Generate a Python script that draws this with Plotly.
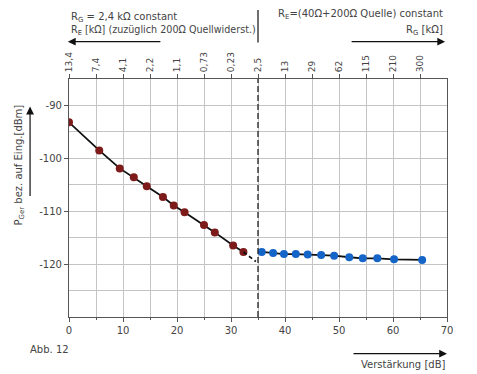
import plotly.graph_objects as go

# ---- data ----
red_gain = [0, 5.6, 9.4, 12.0, 14.4, 17.4, 19.4, 21.4, 25.0, 27.0, 30.4, 32.3]
red_p = [-93.2, -98.5, -101.9, -103.6, -105.3, -107.3, -108.9, -110.2, -112.6, -114.0, -116.5, -117.7]
red_ext_gain = [32.3, 34.6]
red_ext_p = [-117.7, -119.5]

blue_gain = [35.7, 37.8, 39.8, 42.0, 44.2, 46.7, 49.1, 51.9, 54.4, 57.1, 60.2, 65.4]
blue_p = [-117.7, -117.9, -118.1, -118.1, -118.2, -118.3, -118.4, -118.7, -118.9, -118.9, -119.1, -119.2]

split_gain = 35
top_tickvals = [0, 5, 10, 15, 20, 25, 30, 35, 40, 45, 50, 55, 60, 65]
top_ticktext = ["13,4", "7,4", "4,1", "2,2", "1,1", "0,73", "0,23", "2,5",
                "13", "29", "62", "115", "210", "300"]
y_tickvals = [-90, -100, -110, -120]
y_ticktext = ["-90", "-100", "-110", "-120"]

FONT = "DejaVu Sans"
TXT = "#444"
GRID = "#c4c4c4"
FRAME = "#555"

fig = go.Figure()
fig.add_trace(go.Scatter(x=red_gain, y=red_p, mode="lines+markers",
                         line=dict(color="#111", width=1.8),
                         marker=dict(color="#7d1a1a", size=8), showlegend=False))
fig.add_trace(go.Scatter(x=red_ext_gain, y=red_ext_p, mode="lines",
                         line=dict(color="#111", width=1.8, dash="4px,3px"), showlegend=False))
fig.add_trace(go.Scatter(x=blue_gain, y=blue_p, mode="lines+markers",
                         line=dict(color="#111", width=1.8),
                         marker=dict(color="#1565c8", size=8), showlegend=False))
# invisible trace to anchor the top axis
fig.add_trace(go.Scatter(x=[0, 70], y=[-130, -130], xaxis="x2", mode="markers",
                         marker=dict(opacity=0), hoverinfo="skip", showlegend=False))

fig.update_layout(
    width=469, height=366,
    margin=dict(l=61, r=30, t=71, b=57),
    paper_bgcolor="white", plot_bgcolor="white",
    font=dict(family=FONT, size=10, color=TXT),
    xaxis=dict(range=[0, 70], dtick=10, tick0=0, showgrid=True, gridcolor=GRID,
               gridwidth=1, showline=True, linecolor=FRAME, linewidth=1.2, mirror=True,
               ticks="outside", ticklen=4, tickcolor=FRAME, zeroline=False,
               minor=dict(dtick=5, showgrid=True, gridcolor=GRID, gridwidth=1,
                          ticks="outside", ticklen=2, tickcolor=FRAME),
               tickfont=dict(size=10, color=TXT)),
    xaxis2=dict(range=[0, 70], overlaying="x", side="top", tickmode="array",
                tickvals=top_tickvals, ticktext=top_ticktext, tickangle=-90,
                ticks="outside", ticklen=4, tickcolor=FRAME, showgrid=False,
                showline=False, zeroline=False, tickfont=dict(size=9, color=TXT)),
    yaxis=dict(range=[-130, -85], tickmode="array", tickvals=y_tickvals,
               ticktext=y_ticktext, showgrid=True, gridcolor=GRID, gridwidth=1,
               showline=True, linecolor=FRAME, linewidth=1.2, mirror=True,
               ticks="outside", ticklen=4, tickcolor=FRAME, zeroline=False,
               minor=dict(dtick=5, tick0=-130, showgrid=True, gridcolor=GRID, gridwidth=1),
               tickfont=dict(size=10, color=TXT)),
)

# separator lines
fig.add_shape(type="line", xref="x", yref="paper", x0=split_gain, x1=split_gain,
              y0=0, y1=1, line=dict(color="#222", width=1.3, dash="6px,3px"))
fig.add_shape(type="line", xref="x", yref="paper", x0=split_gain, x1=split_gain,
              y0=1.153, y1=1.29, line=dict(color="#222", width=1.3))

ann = []
ann.append(dict(xref="paper", yref="paper", x=0.0, y=1.26, xanchor="left", yanchor="middle",
                text="R<sub>G</sub> = 2,4 kΩ constant", showarrow=False,
                font=dict(size=10, color=TXT)))
ann.append(dict(xref="paper", yref="paper", x=0.0, y=1.204, xanchor="left", yanchor="middle",
                text="R<sub>E</sub> [kΩ] (zuzüglich 200Ω Quellwiderst.)", showarrow=False,
                font=dict(size=9.6, color=TXT)))
ann.append(dict(xref="paper", yref="paper", x=0.995, y=1.27, xanchor="right", yanchor="middle",
                text="R<sub>E</sub>=(40Ω+200Ω Quelle) constant", showarrow=False,
                font=dict(size=10, color=TXT)))
ann.append(dict(xref="paper", yref="paper", x=0.995, y=1.204, xanchor="right", yanchor="middle",
                text="R<sub>G</sub> [kΩ]", showarrow=False, font=dict(size=10, color=TXT)))
# arrows
ann.append(dict(xref="paper", yref="paper", x=-0.003, y=1.157, ax=94, ay=0,
                text="", showarrow=True, arrowhead=2, arrowsize=1.3, arrowwidth=1.2,
                arrowcolor="#111"))
ann.append(dict(xref="paper", yref="paper", x=0.995, y=1.157, ax=-95, ay=0,
                text="", showarrow=True, arrowhead=2, arrowsize=1.3, arrowwidth=1.2,
                arrowcolor="#111"))
ann.append(dict(xref="paper", yref="paper", x=1.0, y=-0.154, ax=-95, ay=0,
                text="", showarrow=True, arrowhead=2, arrowsize=1.3, arrowwidth=1.2,
                arrowcolor="#111"))
ann.append(dict(xref="paper", yref="paper", x=-0.103, y=0.884, ax=0, ay=91,
                text="", showarrow=True, arrowhead=2, arrowsize=1.3, arrowwidth=1.2,
                arrowcolor="#111"))
# axis titles and caption
ann.append(dict(xref="paper", yref="paper", x=-0.13, y=0.64, textangle=-90,
                xanchor="center", yanchor="middle",
                text="P<sub>Ger</sub> bez. auf Eing.[dBm]", showarrow=False,
                font=dict(size=10, color=TXT)))
ann.append(dict(xref="paper", yref="paper", x=1.0, y=-0.2, xanchor="right", yanchor="middle",
                text="Verstärkung [dB]", showarrow=False, font=dict(size=10, color=TXT)))
ann.append(dict(xref="paper", yref="paper", x=-0.108, y=-0.135, xanchor="left", yanchor="middle",
                text="Abb. 12", showarrow=False, font=dict(size=10, color=TXT)))
fig.update_layout(annotations=ann)

fig.write_html("out.html")
